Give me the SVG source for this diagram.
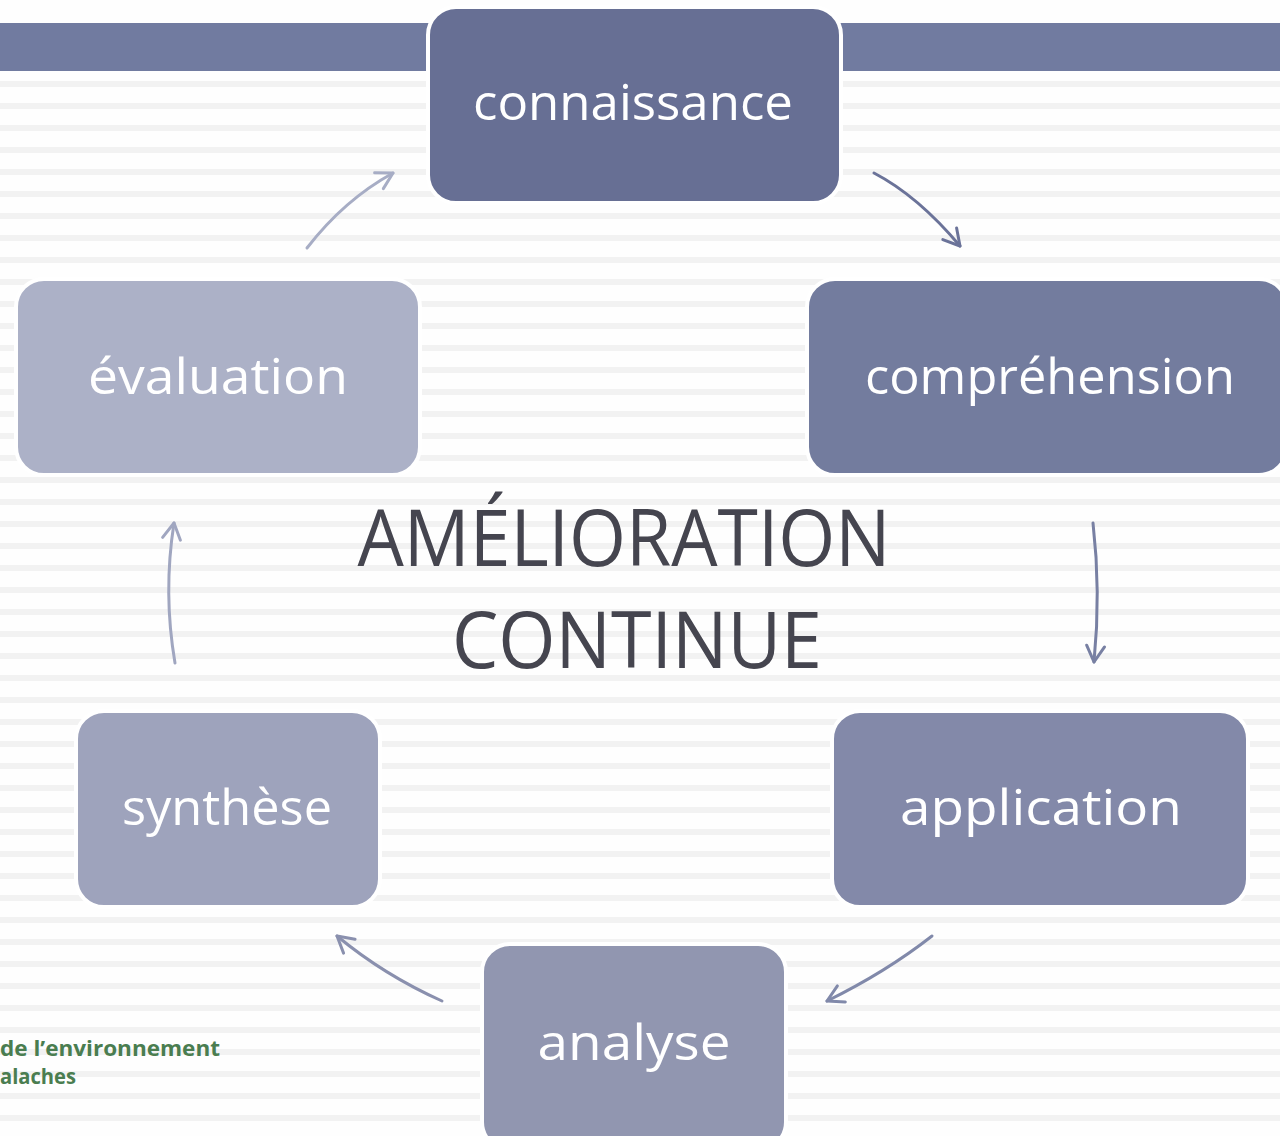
<svg xmlns="http://www.w3.org/2000/svg" width="1280" height="1136" viewBox="0 0 1280 1136">
  <defs>
    <pattern id="stripes" patternUnits="userSpaceOnUse" x="0" y="81" width="1280" height="22">
      <rect x="0" y="0" width="1280" height="6" fill="#f2f2f2"/>
    </pattern>
    <marker id="m1" viewBox="0 0 24 24" refX="20" refY="12" markerWidth="24" markerHeight="24" markerUnits="userSpaceOnUse" orient="auto"><path d="M4,3 L20,12 L4,21" fill="none" stroke="#6b7399" stroke-width="3" stroke-linecap="round" stroke-linejoin="round"/></marker>
    <marker id="m2" viewBox="0 0 24 24" refX="20" refY="12" markerWidth="24" markerHeight="24" markerUnits="userSpaceOnUse" orient="auto"><path d="M4,3 L20,12 L4,21" fill="none" stroke="#7880a3" stroke-width="3" stroke-linecap="round" stroke-linejoin="round"/></marker>
    <marker id="m3" viewBox="0 0 24 24" refX="20" refY="12" markerWidth="24" markerHeight="24" markerUnits="userSpaceOnUse" orient="auto"><path d="M4,3 L20,12 L4,21" fill="none" stroke="#8189aa" stroke-width="3" stroke-linecap="round" stroke-linejoin="round"/></marker>
    <marker id="m4" viewBox="0 0 24 24" refX="20" refY="12" markerWidth="24" markerHeight="24" markerUnits="userSpaceOnUse" orient="auto"><path d="M4,3 L20,12 L4,21" fill="none" stroke="#8a90ae" stroke-width="3" stroke-linecap="round" stroke-linejoin="round"/></marker>
    <marker id="m5" viewBox="0 0 24 24" refX="20" refY="12" markerWidth="24" markerHeight="24" markerUnits="userSpaceOnUse" orient="auto"><path d="M4,3 L20,12 L4,21" fill="none" stroke="#a0a6c0" stroke-width="3" stroke-linecap="round" stroke-linejoin="round"/></marker>
    <marker id="m6" viewBox="0 0 24 24" refX="20" refY="12" markerWidth="24" markerHeight="24" markerUnits="userSpaceOnUse" orient="auto"><path d="M4,3 L20,12 L4,21" fill="none" stroke="#a7adc5" stroke-width="3" stroke-linecap="round" stroke-linejoin="round"/></marker>
  </defs>
  <style>
    .box { stroke: #ffffff; stroke-width: 4; }
    .lbl { font-family: "Open Sans", "DejaVu Sans", sans-serif; font-size: 50px; fill: #ffffff; text-anchor: middle; }
    .title { font-family: "Open Sans", "DejaVu Sans", sans-serif; font-size: 78px; fill: #45454f; text-anchor: middle; }
    .logo { font-family: "Open Sans", "Liberation Sans", sans-serif; font-size: 22px; font-weight: 700; fill: #4a7d50; }
    .conn { fill: none; stroke-width: 3; stroke-linecap: round; }
  </style>

  <rect x="0" y="0" width="1280" height="1136" fill="#fefefe"/>
  <rect x="0" y="81" width="1280" height="1055" fill="url(#stripes)"/>
  <rect x="0" y="23" width="1280" height="48" fill="#717ba0"/>

  <g id="logo-text">
    <text class="logo" x="0" y="1056" textLength="220" lengthAdjust="spacingAndGlyphs">de l’environnement</text>
    <text class="logo" x="0" y="1084" textLength="76" lengthAdjust="spacingAndGlyphs">alaches</text>
  </g>

  <g id="title">
    <text class="title" x="624" y="566" textLength="533" lengthAdjust="spacingAndGlyphs">AMÉLIORATION</text>
    <text class="title" x="637" y="668" textLength="370" lengthAdjust="spacingAndGlyphs">CONTINUE</text>
  </g>

  <g id="connectors">
    <path class="conn" stroke="#6b7399" d="M874,173 Q918,196 960,246" marker-end="url(#m1)"/>
    <path class="conn" stroke="#7880a3" d="M1093,523 Q1101,592 1094,662" marker-end="url(#m2)"/>
    <path class="conn" stroke="#8189aa" d="M932,936 Q886,972 827,1001" marker-end="url(#m3)"/>
    <path class="conn" stroke="#8a90ae" d="M442,1001 Q384,975 337,936" marker-end="url(#m4)"/>
    <path class="conn" stroke="#a0a6c0" d="M175,663 Q163,593 174,523" marker-end="url(#m5)"/>
    <path class="conn" stroke="#a7adc5" d="M307,248 Q344,200 393,173" marker-end="url(#m6)"/>
  </g>

  <g id="node-connaissance">
    <rect class="box" x="428" y="7" width="413" height="196" rx="28" fill="#676f94"/>
    <text class="lbl" x="633" y="120" textLength="320" lengthAdjust="spacingAndGlyphs">connaissance</text>
  </g>
  <g id="node-comprehension">
    <rect class="box" x="807" y="279" width="480" height="196" rx="28" fill="#737c9e"/>
    <text class="lbl" x="1050" y="394" textLength="370" lengthAdjust="spacingAndGlyphs">compréhension</text>
  </g>
  <g id="node-application">
    <rect class="box" x="832" y="711" width="416" height="196" rx="28" fill="#8389a9"/>
    <text class="lbl" x="1041" y="825" textLength="282" lengthAdjust="spacingAndGlyphs">application</text>
  </g>
  <g id="node-analyse">
    <rect class="box" x="482" y="944" width="304" height="206" rx="28" fill="#9196b0"/>
    <text class="lbl" x="634" y="1060" textLength="193" lengthAdjust="spacingAndGlyphs">analyse</text>
  </g>
  <g id="node-synthese">
    <rect class="box" x="76" y="711" width="304" height="196" rx="28" fill="#9ea3bc"/>
    <text class="lbl" x="227" y="825" textLength="210" lengthAdjust="spacingAndGlyphs">synthèse</text>
  </g>
  <g id="node-evaluation">
    <rect class="box" x="16" y="279" width="404" height="196" rx="28" fill="#acb1c7"/>
    <text class="lbl" x="218" y="394" textLength="260" lengthAdjust="spacingAndGlyphs">évaluation</text>
  </g>
</svg>
